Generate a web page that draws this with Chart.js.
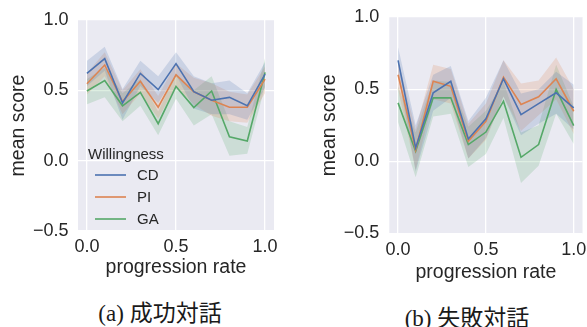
<!DOCTYPE html>
<html><head><meta charset="utf-8">
<script src="https://cdn.jsdelivr.net/npm/chart.js@4.4.0/dist/chart.umd.min.js"></script>
<style>
html,body{margin:0;padding:0;width:587px;height:327px;overflow:hidden;background:#fff;}
canvas{position:absolute;}
.cap{position:absolute;font-family:"Liberation Serif","Noto Sans CJK JP",serif;font-size:23px;color:#1a1a1a;white-space:nowrap;transform:translate(-50%,-50%);line-height:1;}
</style></head><body>
<canvas id="c1" width="290" height="290" style="left:0;top:0"></canvas>
<canvas id="c2" width="320" height="300" style="left:290px;top:0"></canvas>
<div class="cap" style="left:160px;top:313px">(a) 成功対話</div>
<div class="cap" style="left:467px;top:318px">(b) 失敗対話</div>
<script>
// ---------- data ----------
const progression = [0, 0.1, 0.2, 0.3, 0.4, 0.5, 0.6, 0.7, 0.8, 0.9, 1.0];
const seriesNames = ['CD', 'PI', 'GA'];
const xTickValues = [0, 0.5, 1.0];
const xTickLabels = ['0.0', '0.5', '1.0'];
const yTickValues = [-0.5, 0, 0.5, 1.0];
const yTickLabels = ['\u22120.5', '0.0', '0.5', '1.0'];
const legendTitle = 'Willingness';
const xTitle = 'progression rate';
const yTitle = 'mean score';

// (a) success dialogues
const successCD     = [0.62, 0.725, 0.41, 0.62, 0.505, 0.69, 0.49, 0.43, 0.45, 0.39, 0.615];
const successCDLow  = [0.53, 0.64, 0.29, 0.53, 0.41, 0.61, 0.37, 0.33, 0.33, 0.29, 0.52];
const successCDHigh = [0.71, 0.81, 0.51, 0.71, 0.60, 0.77, 0.60, 0.55, 0.57, 0.48, 0.70];
const successPI     = [0.547, 0.68, 0.42, 0.565, 0.38, 0.61, 0.49, 0.43, 0.38, 0.38, 0.58];
const successPILow  = [0.47, 0.60, 0.33, 0.48, 0.30, 0.53, 0.40, 0.32, 0.28, 0.27, 0.48];
const successPIHigh = [0.62, 0.77, 0.50, 0.65, 0.46, 0.69, 0.59, 0.55, 0.49, 0.47, 0.67];
const successGA     = [0.495, 0.57, 0.39, 0.485, 0.263, 0.528, 0.377, 0.495, 0.17, 0.14, 0.628];
const successGALow  = [0.40, 0.45, 0.28, 0.39, 0.18, 0.44, 0.25, 0.33, 0.035, 0.05, 0.53];
const successGAHigh = [0.58, 0.66, 0.48, 0.58, 0.35, 0.62, 0.50, 0.60, 0.28, 0.24, 0.73];

// (b) failure dialogues
const failureCD     = [0.70, 0.093, 0.475, 0.555, 0.155, 0.295, 0.572, 0.324, 0.40, 0.475, 0.37];
const failureCDLow  = [0.60, -0.07, 0.35, 0.44, 0.02, 0.16, 0.45, 0.18, 0.26, 0.33, 0.22];
const failureCDHigh = [0.79, 0.25, 0.60, 0.66, 0.28, 0.44, 0.70, 0.47, 0.50, 0.62, 0.53];
const failurePI     = [0.60, 0.08, 0.555, 0.52, 0.14, 0.278, 0.583, 0.394, 0.447, 0.572, 0.347];
const failurePILow  = [0.50, -0.06, 0.43, 0.40, 0.02, 0.15, 0.45, 0.21, 0.32, 0.43, 0.19];
const failurePIHigh = [0.70, 0.22, 0.67, 0.64, 0.26, 0.40, 0.70, 0.54, 0.56, 0.72, 0.50];
const failureGA     = [0.405, 0.07, 0.44, 0.44, 0.116, 0.203, 0.417, 0.028, 0.116, 0.498, 0.248];
const failureGALow  = [0.27, -0.11, 0.31, 0.33, -0.04, 0.05, 0.30, -0.15, -0.03, 0.33, 0.12];
const failureGAHigh = [0.52, 0.20, 0.56, 0.55, 0.24, 0.35, 0.55, 0.20, 0.25, 0.67, 0.38];

// ---------- style ----------
const colors = ['#4C72B0', '#DD8452', '#55A868'];
const bandColors = ['rgba(76,114,176,0.2)', 'rgba(221,132,82,0.2)', 'rgba(85,168,104,0.2)'];
const textColor = '#262626';
const sans = '"Liberation Sans", Arial, sans-serif';

function pts(arr) { return progression.map((x, i) => ({x: x, y: arr[i]})); }

function buildDatasets(groups) {
  const ds = [];
  groups.forEach((g, k) => {
    ds.push({label: seriesNames[k] + ' line', data: pts(g[0]), borderColor: colors[k], borderWidth: 1.6,
      pointRadius: 0, fill: false, tension: 0, order: 0});
  });
  groups.forEach((g, k) => {
    ds.push({label: seriesNames[k] + ' low', data: pts(g[1]), borderColor: 'rgba(0,0,0,0)', borderWidth: 0,
      pointRadius: 0, fill: false, order: 1});
    ds.push({label: seriesNames[k] + ' high', data: pts(g[2]), borderColor: 'rgba(0,0,0,0)', borderWidth: 0,
      pointRadius: 0, fill: '-1', backgroundColor: bandColors[k], order: 1});
  });
  return ds;
}

const bgPlugin = {
  id: 'plotbg',
  beforeDraw(chart) {
    const a = chart.chartArea, c = chart.ctx;
    c.save(); c.fillStyle = '#EAEAF2'; c.fillRect(a.left, a.top, a.right - a.left, a.bottom - a.top); c.restore();
  }
};

const legendPlugin = {
  id: 'inlegend',
  afterDraw(chart) {
    const c = chart.ctx;
    c.save();
    c.font = '15px ' + sans; c.fillStyle = textColor; c.textBaseline = 'middle'; c.textAlign = 'left';
    c.fillText(legendTitle, 88, 155);
    seriesNames.forEach((n, k) => {
      const y = 175 + k * 22;
      c.strokeStyle = colors[k]; c.lineWidth = 1.6;
      c.beginPath(); c.moveTo(95, y); c.lineTo(126, y); c.stroke();
      c.fillStyle = textColor; c.fillText(n, 137, y + 1);
    });
    c.restore();
  }
};

function makeChart(id, groups, geo, plugins) {
  return new Chart(document.getElementById(id), {
    type: 'line',
    data: {datasets: buildDatasets(groups)},
    plugins: [bgPlugin].concat(plugins),
    options: {
      responsive: false, animation: false, devicePixelRatio: 1,
      layout: {padding: {left: 0, top: geo.top, right: geo.right, bottom: 0}},
      plugins: {legend: {display: false}, tooltip: {enabled: false}, filler: {propagate: false}},
      scales: {
        x: {
          type: 'linear', min: -0.05, max: 1.05,
          afterBuildTicks: s => { s.ticks = xTickValues.map(v => ({value: v})); },
          afterFit: s => { s.height = geo.xh; s.paddingLeft = 0; s.paddingRight = 0; },
          grid: {color: '#ffffff', lineWidth: 1.3, drawTicks: false},
          border: {display: false},
          ticks: {padding: geo.xtp, color: textColor, font: {family: sans, size: 18},
            maxRotation: 0, autoSkip: false,
            callback: v => xTickLabels[xTickValues.indexOf(v)]},
          title: {display: true, text: xTitle, color: textColor, font: {family: sans, size: 19.5, lineHeight: 1.2},
            padding: {top: 0, bottom: geo.xttp}}
        },
        y: {
          type: 'linear', min: -0.5, max: 1.0,
          afterBuildTicks: s => { s.ticks = yTickValues.map(v => ({value: v})); },
          afterFit: s => { s.width = geo.yw; s.paddingTop = 0; s.paddingBottom = 0; },
          grid: {color: '#ffffff', lineWidth: 1.3, drawTicks: false},
          border: {display: false},
          ticks: {padding: geo.ytp, color: textColor, font: {family: sans, size: 18}, autoSkip: false,
            callback: v => yTickLabels[yTickValues.indexOf(v)]},
          title: {display: true, text: yTitle, color: textColor, font: {family: sans, size: 19.5, lineHeight: 1.2},
            padding: {top: geo.yttp, bottom: 0}}
        }
      }
    }
  });
}

makeChart('c1', [[successCD, successCDLow, successCDHigh], [successPI, successPILow, successPIHigh],
  [successGA, successGALow, successGAHigh]],
  {top: 20, right: 16, xh: 59, yw: 78, xtp: 5, ytp: 9.5, xttp: 10.6, yttp: 6.6}, [legendPlugin]);

makeChart('c2', [[failureCD, failureCDLow, failureCDHigh], [failurePI, failurePILow, failurePIHigh],
  [failureGA, failureGALow, failureGAHigh]],
  {top: 17, right: 27.5, xh: 66.5, yw: 99.3, xtp: 5.5, ytp: 10, xttp: 15.6, yttp: 27.6}, []);
</script>
</body></html>
